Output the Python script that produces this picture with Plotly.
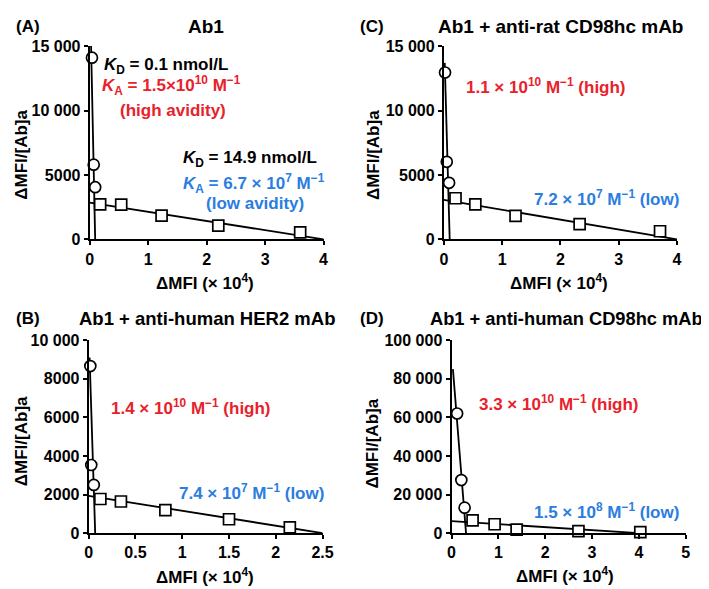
import plotly.graph_objects as go

W, H = 709, 589
FONT = "Liberation Sans, Arial, sans-serif"
RED = "#E8212B"
BLUE = "#2A7DE1"

# (A) Ab1
a_circ_x = [0.04, 0.07, 0.095]
a_circ_y = [14100, 5800, 4050]
a_sq_x = [0.18, 0.54, 1.23, 2.2, 3.6]
a_sq_y = [2720, 2700, 1840, 1060, 550]
a_high_x = [0.025, 0.095]
a_high_y = [15000, 0]
a_low_x = [0, 4.0]
a_low_y = [2850, 0]

# (C) Ab1 + anti-rat CD98hc mAb
c_circ_x = [0.02, 0.05, 0.09]
c_circ_y = [12950, 6020, 4390]
c_sq_x = [0.2, 0.54, 1.23, 2.33, 3.71]
c_sq_y = [3190, 2710, 1830, 1180, 630]
c_high_x = [0.015, 0.1]
c_high_y = [13700, 0]
c_low_x = [0, 4.0]
c_low_y = [3060, 0]

# (B) Ab1 + anti-human HER2 mAb
b_circ_x = [0.018, 0.028, 0.055]
b_circ_y = [8660, 3530, 2500]
b_sq_x = [0.125, 0.345, 0.82, 1.5, 2.15]
b_sq_y = [1770, 1640, 1190, 720, 300]
b_high_x = [0.01, 0.07]
b_high_y = [9100, 0]
b_low_x = [0, 2.5]
b_low_y = [1930, 0]

# (D) Ab1 + anti-human CD98hc mAb
d_circ_x = [0.12, 0.21, 0.28]
d_circ_y = [62000, 27500, 13200]
d_sq_x = [0.45, 0.92, 1.39, 2.71, 4.03]
d_sq_y = [6600, 4600, 1850, 1000, 500]
d_high_x = [0.03, 0.31]
d_high_y = [85000, 0]
d_low_x = [0, 4.0]
d_low_y = [6200, 0]

# tick labels
x_ticks_4 = [0, 1, 2, 3, 4]
x_ticks_25 = [0, 0.5, 1, 1.5, 2, 2.5]
x_ticks_25_text = ["0", "0.5", "1", "1.5", "2", "2.5"]
x_ticks_5 = [0, 1, 2, 3, 4, 5]
y_ticks_15k = [0, 5000, 10000, 15000]
y_ticks_15k_text = ["0", "5000", "10 000", "15 000"]
y_ticks_10k = [0, 2000, 4000, 6000, 8000, 10000]
y_ticks_10k_text = ["0", "2000", "4000", "6000", "8000", "10 000"]
y_ticks_100k = [0, 20000, 40000, 60000, 80000, 100000]
y_ticks_100k_text = ["0", "20 000", "40 000", "60 000", "80 000", "100 000"]

fig = go.Figure()

panels = [
    ("x", "y", a_circ_x, a_circ_y, a_sq_x, a_sq_y, a_high_x, a_high_y, a_low_x, a_low_y),
    ("x2", "y2", c_circ_x, c_circ_y, c_sq_x, c_sq_y, c_high_x, c_high_y, c_low_x, c_low_y),
    ("x3", "y3", b_circ_x, b_circ_y, b_sq_x, b_sq_y, b_high_x, b_high_y, b_low_x, b_low_y),
    ("x4", "y4", d_circ_x, d_circ_y, d_sq_x, d_sq_y, d_high_x, d_high_y, d_low_x, d_low_y),
]

for xa, ya, cx, cy, sx, sy, hx, hy, lx, ly in panels:
    # fitted lines first, markers on top
    for lxs, lys in [(hx, hy), (lx, ly)]:
        fig.add_trace(go.Scatter(x=lxs, y=lys, mode="lines", xaxis=xa, yaxis=ya,
                                 line=dict(color="black", width=1.8), showlegend=False))
    fig.add_trace(go.Scatter(x=cx, y=cy, mode="markers", xaxis=xa, yaxis=ya, cliponaxis=False,
                             marker=dict(symbol="circle", size=11, color="white",
                                         line=dict(color="black", width=1.7)),
                             showlegend=False))
    fig.add_trace(go.Scatter(x=sx, y=sy, mode="markers", xaxis=xa, yaxis=ya, cliponaxis=False,
                             marker=dict(symbol="square", size=11, color="white",
                                         line=dict(color="black", width=1.7)),
                             showlegend=False))


def axis(domain, rng, vals, text=None, anchor=None):
    d = dict(domain=domain, range=rng, tickvals=vals, showline=True, linecolor="black",
             linewidth=2, ticks="outside", ticklen=4, tickwidth=2, tickcolor="black",
             showgrid=False, zeroline=False, fixedrange=True, anchor=anchor,
             tickfont=dict(family=FONT, size=16, color="black", weight="bold"))
    if text is not None:
        d["ticktext"] = text
    return d


top_y = [1 - 230 / H, 1 - 31 / H]
bot_y = [1 - 532.5 / H, 1 - 333.8 / H]

fig.update_layout(
    width=W, height=H,
    margin=dict(l=0, r=0, t=0, b=0),
    paper_bgcolor="white", plot_bgcolor="white",
    xaxis=axis([79.3 / W, 318.3 / W], [0, 4], x_ticks_4, anchor="y"),
    yaxis=axis(top_y, [0, 15000], y_ticks_15k, y_ticks_15k_text, anchor="x"),
    xaxis2=axis([441.2 / W, 679.3 / W], [0, 4], x_ticks_4, anchor="y2"),
    yaxis2=axis(top_y, [0, 15000], y_ticks_15k, y_ticks_15k_text, anchor="x2"),
    xaxis3=axis([78.3 / W, 317.3 / W], [0, 2.5], x_ticks_25, x_ticks_25_text, anchor="y3"),
    yaxis3=axis(bot_y, [0, 10000], y_ticks_10k, y_ticks_10k_text, anchor="x3"),
    xaxis4=axis([449 / W, 688.3 / W], [0, 5], x_ticks_5, anchor="y4"),
    yaxis4=axis(bot_y, [0, 100000], y_ticks_100k, y_ticks_100k_text, anchor="x4"),
)


def ann(text, x, y, size=17, color="black", xanchor="center", angle=0):
    return dict(text=text, x=x / W, y=1 - y / H, xref="paper", yref="paper",
                showarrow=False, xanchor=xanchor, yanchor="middle", textangle=angle,
                font=dict(family=FONT, size=size, color=color))


xtitle = "<b>ΔMFI (× 10<sup>4</sup>)</b>"
ytitle = "<b>ΔMFI/[Ab]a</b>"

anns = [
    # panel letters and titles
    ann("<b>(A)</b>", 2, 11, 17, xanchor="left"),
    ann("<b>Ab1</b>", 198, 11, 19),
    ann("<b>(C)</b>", 353, 11, 17, xanchor="left"),
    ann("<b>Ab1 + anti-rat CD98hc mAb</b>", 560, 11, 19),
    ann("<b>(B)</b>", 2, 311, 17, xanchor="left"),
    ann("<b>Ab1 + anti-human HER2 mAb</b>", 199, 311, 18.5),
    ann("<b>(D)</b>", 353, 311, 17, xanchor="left"),
    ann("<b>Ab1 + anti-human CD98hc mAb</b>", 566, 311, 18.3),
    # axis titles
    ann(xtitle, 197, 274), ann(xtitle, 559, 274),
    ann(xtitle, 197, 577), ann(xtitle, 565, 576),
    ann(ytitle, 10, 143, angle=-90), ann(ytitle, 370, 143, angle=-90),
    ann(ytitle, 10, 438, angle=-90), ann(ytitle, 368, 440, angle=-90),
    # panel A text
    ann("<b><i>K</i><sub>D</sub> = 0.1 nmol/L</b>", 92, 52, xanchor="left"),
    ann("<b><i>K</i><sub>A</sub> = 1.5×10<sup>10</sup> M<sup>−1</sup></b>", 90, 72, color=RED, xanchor="left"),
    ann("<b>(high avidity)</b>", 164, 97, color=RED),
    ann("<b><i>K</i><sub>D</sub> = 14.9 nmol/L</b>", 173, 147, xanchor="left"),
    ann("<b><i>K</i><sub>A</sub> = 6.7 × 10<sup>7</sup> M<sup>−1</sup></b>", 173, 172, color=BLUE, xanchor="left"),
    ann("<b>(low avidity)</b>", 248, 193, color=BLUE),
    # panel C text
    ann("<b>1.1 × 10<sup>10</sup> M<sup>−1</sup> (high)</b>", 546, 72, color=RED),
    ann("<b>7.2 × 10<sup>7</sup> M<sup>−1</sup> (low)</b>", 607, 187, color=BLUE),
    # panel B text
    ann("<b>1.4 × 10<sup>10</sup> M<sup>−1</sup> (high)</b>", 183, 403, color=RED),
    ann("<b>7.4 × 10<sup>7</sup> M<sup>−1</sup> (low)</b>", 245, 490, color=BLUE),
    # panel D text
    ann("<b>3.3 × 10<sup>10</sup> M<sup>−1</sup> (high)</b>", 559, 399, color=RED),
    ann("<b>1.5 × 10<sup>8</sup> M<sup>−1</sup> (low)</b>", 607, 510, color=BLUE),
]
fig.update_layout(annotations=anns)

fig.write_html("out.html")
